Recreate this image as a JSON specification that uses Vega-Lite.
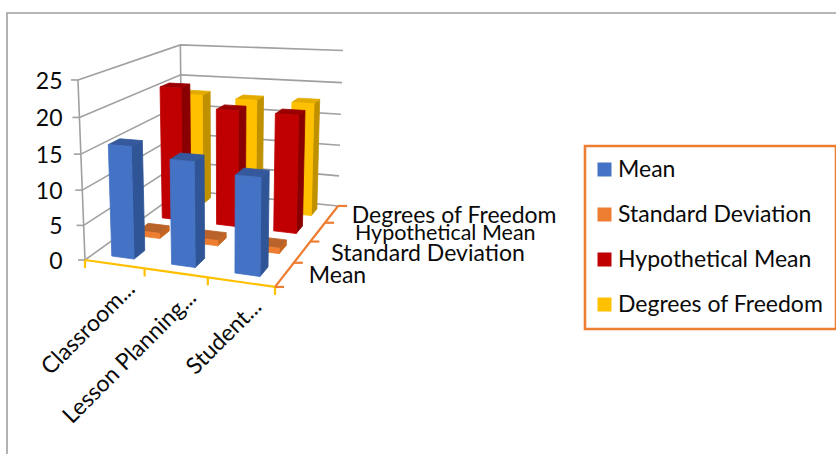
{
  "$schema": "https://vega.github.io/schema/vega-lite/v6.json",
  "description": "Column chart in an oblique 3D view: every face is projected from category, series and value.",
  "autosize": "none",
  "padding": {"left": 7, "top": 13, "right": 0, "bottom": 0},
  "width": 831,
  "height": 443,
  "background": "white",
  "view": {"stroke": "#a0a0a0", "strokeWidth": 1.6, "fill": "white"},
  "config": {"text": {"font": "Lato", "fontSize": 23, "color": "#0a0a0a"}, "legend": {"strokeWidth": 2.6}},
  "datasets": {
    "bars": [
      {"category": "Classroom...", "i": 0, "series": "Degrees of Freedom", "j": 3, "value": 18.0},
      {"category": "Lesson Planning...", "i": 1, "series": "Degrees of Freedom", "j": 3, "value": 17.7},
      {"category": "Student...", "i": 2, "series": "Degrees of Freedom", "j": 3, "value": 17.7},
      {"category": "Classroom...", "i": 0, "series": "Hypothetical Mean", "j": 2, "value": 20.7},
      {"category": "Lesson Planning...", "i": 1, "series": "Hypothetical Mean", "j": 2, "value": 17.8},
      {"category": "Student...", "i": 2, "series": "Hypothetical Mean", "j": 2, "value": 17.7},
      {"category": "Classroom...", "i": 0, "series": "Standard Deviation", "j": 1, "value": 0.8},
      {"category": "Lesson Planning...", "i": 1, "series": "Standard Deviation", "j": 1, "value": 0.8},
      {"category": "Student...", "i": 2, "series": "Standard Deviation", "j": 1, "value": 0.8},
      {"category": "Classroom...", "i": 0, "series": "Mean", "j": 0, "value": 15.9},
      {"category": "Lesson Planning...", "i": 1, "series": "Mean", "j": 0, "value": 14.6},
      {"category": "Student...", "i": 2, "series": "Mean", "j": 0, "value": 13.3}
    ],
    "levels": [{"z": 0}, {"z": 5}, {"z": 10}, {"z": 15}, {"z": 20}, {"z": 25}],
    "categoryTicks": [{"u": 0}, {"u": 1}, {"u": 2}, {"u": 3}],
    "seriesTicks": [{"v": 0}, {"v": 1}, {"v": 2}, {"v": 3}, {"v": 4}],
    "categories": [
      {"category": "Classroom...", "u": 0.5},
      {"category": "Lesson Planning...", "u": 1.5},
      {"category": "Student...", "u": 2.5}
    ],
    "seriesNames": [
      {"series": "Mean", "v": 0.5, "shift": 24},
      {"series": "Standard Deviation", "v": 1.5, "shift": 29},
      {"series": "Hypothetical Mean", "v": 2.5, "shift": 37},
      {"series": "Degrees of Freedom", "v": 3.5, "shift": 20}
    ]
  },
  "encoding": {
    "x": {"field": "X", "type": "quantitative", "axis": null, "scale": {"domain": [7, 838], "nice": false, "zero": false}},
    "y": {"field": "Y", "type": "quantitative", "axis": null, "scale": {"domain": [456, 13], "nice": false, "zero": false}}
  },
  "layer": [
    {
      "data": {"name": "levels"},
      "transform": [
        {"calculate": "[0,1,2]", "as": "step"},
        {"flatten": ["step"]},
        {"calculate": "datum.step == 2 ? 1 : 0", "as": "a"},
        {"calculate": "datum.step >= 1 ? 1 : 0", "as": "b"},
        {"calculate": "datum.z / 25", "as": "c"},
        {"calculate": "1 - 0.0859*datum.a + 0.2526*datum.b - 0.0483*datum.c", "as": "w"},
        {"calculate": "(85 + 166.4*datum.a + 143*datum.b - 10.8*datum.c) / datum.w", "as": "X"},
        {"calculate": "(260 + 2.3*datum.a - 22*datum.b - 183.9*datum.c) / datum.w", "as": "Y"}
      ],
      "mark": {"type": "line", "stroke": "#a0a0a0", "strokeWidth": 1.6},
      "encoding": {"detail": {"field": "z"}, "order": {"field": "step"}}
    },
    {
      "data": {"name": "levels"},
      "transform": [
        {"calculate": "[0,1]", "as": "edge"},
        {"flatten": ["edge"]},
        {"calculate": "0", "as": "a"},
        {"calculate": "datum.edge", "as": "b"},
        {"calculate": "datum.z / 25", "as": "c"},
        {"calculate": "1 - 0.0859*datum.a + 0.2526*datum.b - 0.0483*datum.c", "as": "w"},
        {"calculate": "(85 + 166.4*datum.a + 143*datum.b - 10.8*datum.c) / datum.w", "as": "X"},
        {"calculate": "(260 + 2.3*datum.a - 22*datum.b - 183.9*datum.c) / datum.w", "as": "Y"}
      ],
      "mark": {"type": "line", "stroke": "#a0a0a0", "strokeWidth": 1.6},
      "encoding": {"detail": {"field": "edge"}, "order": {"field": "z"}}
    },
    {
      "data": {"name": "levels"},
      "transform": [
        {"calculate": "datum.z / 25", "as": "c"},
        {"calculate": "1 - 0.0483*datum.c", "as": "w"},
        {"calculate": "(85 - 10.8*datum.c) / datum.w", "as": "X"},
        {"calculate": "(260 - 183.9*datum.c) / datum.w", "as": "Y"},
        {"calculate": "datum.X - 7", "as": "Xend"}
      ],
      "mark": {"type": "rule", "stroke": "#a0a0a0", "strokeWidth": 1.6},
      "encoding": {"x2": {"field": "Xend"}}
    },
    {
      "data": {"name": "levels"},
      "transform": [
        {"calculate": "datum.z / 25", "as": "c"},
        {"calculate": "1 - 0.0483*datum.c", "as": "w"},
        {"calculate": "(260 - 183.9*datum.c) / datum.w", "as": "Y"},
        {"calculate": "62.5", "as": "X"},
        {"calculate": "'' + datum.z", "as": "tickLabel"}
      ],
      "mark": {"type": "text", "align": "right", "baseline": "middle", "dy": 2},
      "encoding": {"text": {"field": "tickLabel"}}
    },
    {
      "data": {"name": "bars"},
      "transform": [
        {"calculate": "['side','top','front']", "as": "face"},
        {"flatten": ["face"]},
        {"calculate": "[0,1,2,3]", "as": "k"},
        {"flatten": ["k"]},
        {"calculate": "datum.face == 'front' ? datum.series : datum.series + ' ' + datum.face", "as": "shade"},
        {"calculate": "datum.i + 0.31", "as": "u0"},
        {"calculate": "datum.i + 0.69", "as": "u1"},
        {"calculate": "datum.j + 0.3", "as": "v0"},
        {"calculate": "datum.j + 0.7", "as": "v1"},
        {"calculate": "datum.face == 'side' ? datum.u1 : ((datum.k == 0 || datum.k == 3) ? datum.u0 : datum.u1)", "as": "u"},
        {"calculate": "datum.face == 'front' ? datum.v0 : datum.face == 'side' ? ((datum.k == 1 || datum.k == 2) ? datum.v1 : datum.v0) : (datum.k < 2 ? datum.v0 : datum.v1)", "as": "v"},
        {"calculate": "datum.face == 'top' ? datum.value : (datum.k < 2 ? 0 : datum.value)", "as": "h"},
        {"calculate": "datum.u / 3", "as": "a"},
        {"calculate": "datum.v / 4", "as": "b"},
        {"calculate": "datum.h / 25", "as": "c"},
        {"calculate": "1 - 0.0859*datum.a + 0.2526*datum.b - 0.0483*datum.c", "as": "w"},
        {"calculate": "(85 + 166.4*datum.a + 143*datum.b - 10.8*datum.c) / datum.w", "as": "X"},
        {"calculate": "(260 + 2.3*datum.a - 22*datum.b - 183.9*datum.c) / datum.w", "as": "Y"}
      ],
      "mark": {"type": "line", "filled": true, "interpolate": "linear-closed", "strokeWidth": 0.8},
      "encoding": {
        "color": {
          "field": "shade",
          "type": "nominal",
          "scale": {
            "domain": [
              "Mean", "Standard Deviation", "Hypothetical Mean", "Degrees of Freedom",
              "Mean side", "Standard Deviation side", "Hypothetical Mean side", "Degrees of Freedom side",
              "Mean top", "Standard Deviation top", "Hypothetical Mean top", "Degrees of Freedom top"
            ],
            "range": [
              "#4472c4", "#ed7d31", "#c00000", "#ffc000",
              "#2f5597", "#c5651f", "#8a0000", "#bf9000",
              "#35599c", "#b9622a", "#9a0000", "#e3aa00"
            ]
          },
          "legend": {
            "values": ["Mean", "Standard Deviation", "Hypothetical Mean", "Degrees of Freedom"],
            "labelExpr": "indexof(datum.label, 'Standard') == 0 ? '\u2005' + datum.label : datum.label",
            "title": null,
            "orient": "none",
            "legendX": 578,
            "legendY": 133,
            "padding": 12,
            "rowPadding": 21,
            "symbolType": "square",
            "symbolSize": 196,
            "symbolOffset": -4,
            "symbolStrokeWidth": 0,
            "labelFont": "Lato",
            "labelFontSize": 23,
            "labelColor": "#0a0a0a",
            "labelOffset": 2,
            "labelLimit": 300,
            "strokeColor": "#ed7d31",
            "fillColor": "white"
          }
        },
        "stroke": {
          "field": "shade",
          "type": "nominal",
          "legend": null,
          "scale": {
            "domain": [
              "Mean", "Standard Deviation", "Hypothetical Mean", "Degrees of Freedom",
              "Mean side", "Standard Deviation side", "Hypothetical Mean side", "Degrees of Freedom side",
              "Mean top", "Standard Deviation top", "Hypothetical Mean top", "Degrees of Freedom top"
            ],
            "range": [
              "#4472c4", "#ed7d31", "#c00000", "#ffc000",
              "#2f5597", "#c5651f", "#8a0000", "#bf9000",
              "#35599c", "#b9622a", "#9a0000", "#e3aa00"
            ]
          }
        },
        "detail": {"field": "category"},
        "order": {"field": "k"}
      }
    },
    {
      "data": {"name": "categoryTicks"},
      "transform": [
        {"calculate": "datum.u / 3", "as": "a"},
        {"calculate": "1 - 0.0859*datum.a", "as": "w"},
        {"calculate": "(85 + 166.4*datum.a) / datum.w", "as": "X"},
        {"calculate": "(260 + 2.3*datum.a) / datum.w", "as": "Y"},
        {"calculate": "datum.Y + 8", "as": "Yend"}
      ],
      "layer": [
        {"mark": {"type": "line", "stroke": "#ffc000", "strokeWidth": 2.2}, "encoding": {"order": {"field": "u"}}},
        {"mark": {"type": "rule", "stroke": "#ffc000", "strokeWidth": 2.2}, "encoding": {"y2": {"field": "Yend"}}}
      ]
    },
    {
      "data": {"name": "seriesTicks"},
      "transform": [
        {"calculate": "datum.v / 4", "as": "b"},
        {"calculate": "1 - 0.0859 + 0.2526*datum.b", "as": "w"},
        {"calculate": "(85 + 166.4 + 143*datum.b) / datum.w", "as": "X"},
        {"calculate": "(260 + 2.3 - 22*datum.b) / datum.w", "as": "Y"},
        {"calculate": "datum.X + 9", "as": "Xend"}
      ],
      "layer": [
        {"mark": {"type": "line", "stroke": "#ed7d31", "strokeWidth": 2.2}, "encoding": {"order": {"field": "v"}}},
        {"mark": {"type": "rule", "stroke": "#ed7d31", "strokeWidth": 2.2}, "encoding": {"x2": {"field": "Xend"}}}
      ]
    },
    {
      "data": {"name": "categories"},
      "transform": [
        {"calculate": "datum.u / 3", "as": "a"},
        {"calculate": "1 - 0.0859*datum.a", "as": "w"},
        {"calculate": "(85 + 166.4*datum.a) / datum.w", "as": "X"},
        {"calculate": "(260 + 2.3*datum.a) / datum.w", "as": "Y"}
      ],
      "mark": {"type": "text", "align": "right", "baseline": "middle", "angle": 315, "dx": -3, "dy": 27},
      "encoding": {"text": {"field": "category"}}
    },
    {
      "data": {"name": "seriesNames"},
      "transform": [
        {"calculate": "datum.v / 4", "as": "b"},
        {"calculate": "1 - 0.0859 + 0.2526*datum.b", "as": "w"},
        {"calculate": "(85 + 166.4 + 143*datum.b) / datum.w + datum.shift", "as": "X"},
        {"calculate": "(260 + 2.3 - 22*datum.b) / datum.w", "as": "Y"}
      ],
      "layer": [
        {
          "transform": [{"filter": "datum.series != 'Hypothetical Mean'"}],
          "mark": {"type": "text", "align": "left", "baseline": "middle", "dy": 2},
          "encoding": {"text": {"field": "series"}}
        },
        {
          "transform": [{"filter": "datum.series == 'Hypothetical Mean'"}],
          "mark": {"type": "text", "align": "left", "baseline": "middle", "dy": 2, "fontSize": 21.5},
          "encoding": {"text": {"field": "series"}}
        }
      ]
    }
  ]
}
